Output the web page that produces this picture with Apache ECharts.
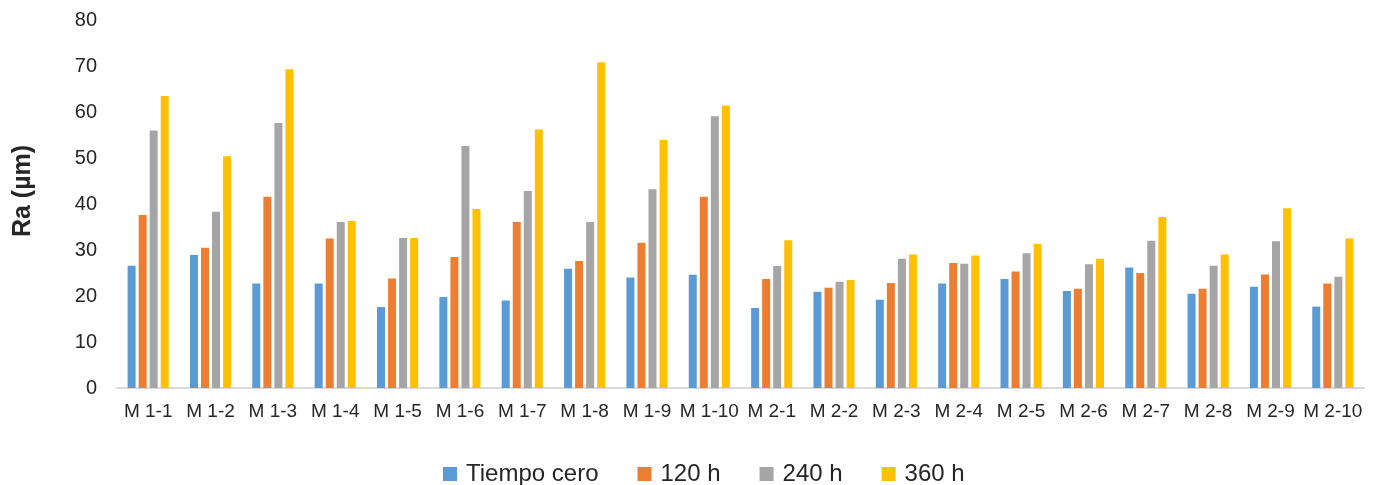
<!DOCTYPE html>
<html><head><meta charset="utf-8">
<script src="https://cdn.jsdelivr.net/npm/echarts@6/dist/echarts.min.js"></script>
<style>html,body{margin:0;padding:0;background:#fff}#c{width:1378px;height:485px}</style>
</head><body><div id="c"></div>
<script>
const categories = ['M 1-1','M 1-2','M 1-3','M 1-4','M 1-5','M 1-6','M 1-7','M 1-8','M 1-9','M 1-10',
  'M 2-1','M 2-2','M 2-3','M 2-4','M 2-5','M 2-6','M 2-7','M 2-8','M 2-9','M 2-10'];
const seriesNames = ['Tiempo cero','120 h','240 h','360 h'];
const tiempoCero = [26.6,28.9,22.7,22.7,17.6,19.8,19.0,25.9,24.0,24.6,17.4,20.9,19.2,22.7,23.7,21.1,26.2,20.5,22.0,17.7];
const h120 = [37.6,30.5,41.6,32.5,23.8,28.5,36.1,27.6,31.6,41.6,23.7,21.8,22.8,27.2,25.3,21.6,25.0,21.6,24.7,22.7];
const h240 = [56.0,38.3,57.6,36.1,32.6,52.6,42.8,36.1,43.2,59.1,26.5,23.1,28.1,27.0,29.3,26.9,32.0,26.6,31.9,24.2];
const h360 = [63.5,50.4,69.3,36.3,32.6,38.9,56.2,70.8,53.9,61.4,32.1,23.5,29.0,28.8,31.3,28.1,37.2,29.0,39.1,32.5];
const yTitle = 'Ra (µm)';
const colors = ['#5B9BD5','#ED7D31','#A5A5A5','#FFC000'];
const values = [tiempoCero,h120,h240,h360];
const FF = 'Liberation Sans, Arial, sans-serif';

const chart = echarts.init(document.getElementById('c'));
chart.setOption({
  animation:false,
  textStyle:{fontFamily:FF},
  grid:{left:117,right:14,top:20,bottom:97},
  legend:{
    left:438, top:457, itemWidth:14, itemHeight:14, itemGap:39,
    icon:'rect',
    textStyle:{fontSize:24,color:'#262626',fontFamily:FF,padding:[0,0,0,4]},
    data:seriesNames
  },
  graphic:[{
    type:'text', x:23, y:191, rotation:Math.PI/2,
    style:{text:yTitle, font:'bold 25px '+FF, fill:'#262626', textAlign:'center', textVerticalAlign:'middle'}
  }],
  xAxis:{
    type:'category', data:categories,
    axisLine:{lineStyle:{color:'#D9D9D9',width:2}},
    axisTick:{show:false},
    axisLabel:{color:'#262626',fontSize:19,margin:14,interval:0}
  },
  yAxis:{
    type:'value', min:0, max:80, interval:10,
    axisLine:{show:false}, axisTick:{show:false}, splitLine:{show:false},
    axisLabel:{color:'#262626',fontSize:20,margin:20}
  },
  series: seriesNames.map((n,i)=>({
    name:n, type:'bar', data:values[i], barWidth:8, barGap:'38%',
    itemStyle:{color:colors[i]}
  }))
});
</script></body></html>
